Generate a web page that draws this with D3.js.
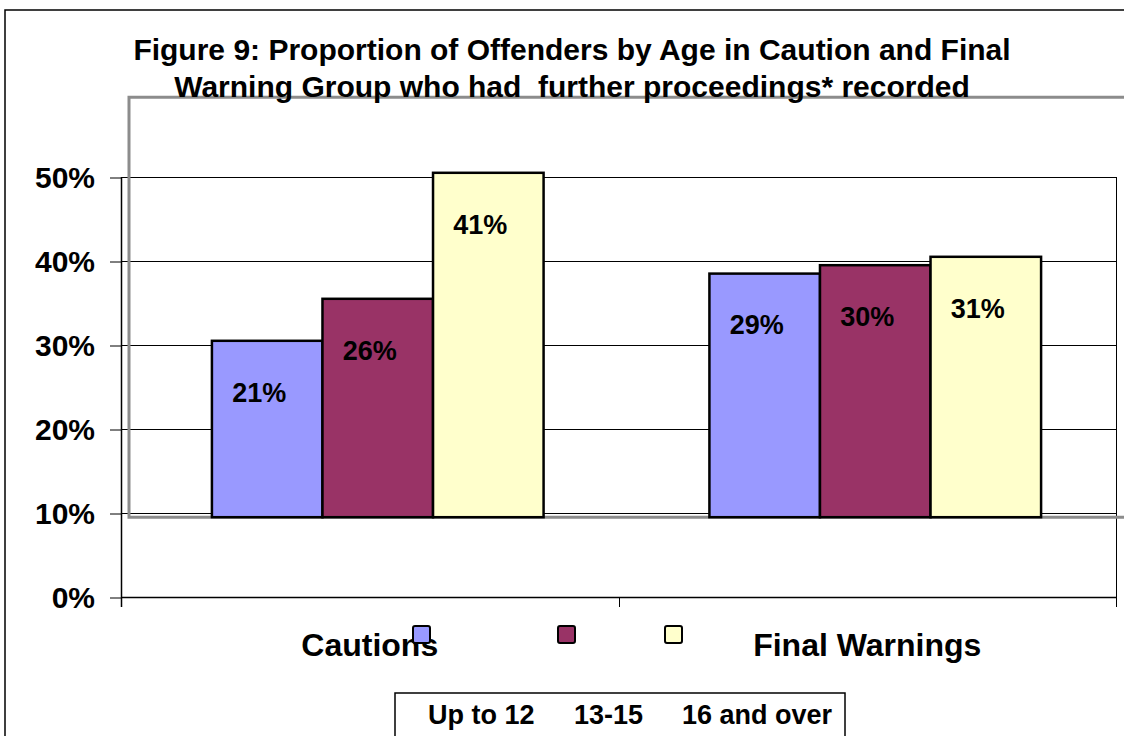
<!DOCTYPE html>
<html>
<head>
<meta charset="utf-8">
<script src="https://cdn.jsdelivr.net/npm/d3@7"></script>
<style>
  html, body { margin: 0; padding: 0; background: #fff; }
  svg { display: block; font-family: "Liberation Sans", Arial, Helvetica, sans-serif; font-weight: bold; }
  text { white-space: pre; }
</style>
</head>
<body>
<svg id="chart" width="1124" height="736"></svg>
<script>
// ---- data ----
const categories = ["Cautions", "Final Warnings"];
const seriesNames = ["Up to 12", "13-15", "16 and over"];
const upTo12 = [21, 29];
const age13to15 = [26, 30];
const age16plus = [41, 31];
const yTickValues = [0, 10, 20, 30, 40, 50];
const seriesColors = ["#9999FF", "#993366", "#FFFFCC"];
const titleLines = [
  "Figure 9: Proportion of Offenders by Age in Caution and Final",
  "Warning Group who had  further proceedings* recorded"
];

const seriesValues = [upTo12, age13to15, age16plus];

// ---- layout ----
const W = 1124, H = 736;
const plot = { left: 121, right: 1116, top: 177, bottom: 597 };
const svg = d3.select("#chart");

const x0 = d3.scaleBand().domain(categories).range([plot.left, plot.right]).padding(0);
const x1 = d3.scaleBand().domain(seriesNames)
  .range([x0.bandwidth() / 6, x0.bandwidth() * 5 / 6]).padding(0);
const y = d3.scaleLinear().domain([0, 50]).range([plot.bottom, plot.top]);

// shifted plot-area frame (the grey box and the bars sit in it)
const shift = { dx: 8, dy: y(9.5) - y(0) };

// outer chart frame
svg.append("path")
  .attr("d", `M5,${H + 5} L5,10 L${W + 5},10`)
  .attr("fill", "none").attr("stroke", "#000").attr("stroke-width", 1.5);

// gridlines
svg.append("g").selectAll("line").data(yTickValues).join("line")
  .attr("x1", plot.left).attr("x2", plot.right)
  .attr("y1", d => Math.round(y(d)) + 0.5).attr("y2", d => Math.round(y(d)) + 0.5)
  .attr("stroke", "#000").attr("stroke-width", 1);

// right border of plot
svg.append("line")
  .attr("x1", plot.right + 0.5).attr("x2", plot.right + 0.5)
  .attr("y1", plot.top).attr("y2", plot.bottom + 10)
  .attr("stroke", "#000").attr("stroke-width", 1);

// y axis
const yAxis = d3.axisLeft(y).tickValues(yTickValues).tickSize(11).tickPadding(15)
  .tickFormat(d => d + "%");
const yg = svg.append("g").attr("transform", `translate(${plot.left},0)`).call(yAxis);
yg.select(".domain").remove();
yg.selectAll(".tick line").attr("stroke", "#000").attr("stroke-width", 1)
  .attr("transform", "translate(0,0.5)");
yg.selectAll(".tick text").attr("font-size", 30).attr("fill", "#000")
  .attr("font-family", "'Liberation Sans', Arial, sans-serif").attr("font-weight", "bold")
  .attr("dy", "0.36em");
svg.append("line")
  .attr("x1", plot.left + 0.5).attr("x2", plot.left + 0.5)
  .attr("y1", plot.top).attr("y2", plot.bottom + 10)
  .attr("stroke", "#000").attr("stroke-width", 1.5);

// x axis line and ticks
svg.append("line")
  .attr("x1", plot.left).attr("x2", plot.right)
  .attr("y1", plot.bottom + 0.5).attr("y2", plot.bottom + 0.5)
  .attr("stroke", "#000").attr("stroke-width", 1.5);
const boundaries = categories.map(c => x0(c)).concat([plot.right]);
svg.append("g").selectAll("line").data(boundaries.slice(1)).join("line")
  .attr("x1", d => Math.round(d) + 0.5).attr("x2", d => Math.round(d) + 0.5)
  .attr("y1", plot.bottom).attr("y2", plot.bottom + 10)
  .attr("stroke", "#000").attr("stroke-width", 1);

// grey shifted plot frame (right edge falls outside the page)
const gx = plot.left + shift.dx, gt = plot.top + shift.dy, gb = plot.bottom + shift.dy;
svg.append("path")
  .attr("d", `M${W + 10},${gt} L${gx},${gt} L${gx},${gb} L${W + 10},${gb}`)
  .attr("fill", "none").attr("stroke", "#8c8c8c").attr("stroke-width", 3);

// bars (in shifted frame)
const barsG = svg.append("g").attr("transform", `translate(${shift.dx},${shift.dy})`);
categories.forEach((cat, ci) => {
  seriesNames.forEach((s, si) => {
    const v = seriesValues[si][ci];
    barsG.append("rect")
      .attr("x", x0(cat) + x1(s))
      .attr("y", y(v))
      .attr("width", x1.bandwidth())
      .attr("height", y(0) - y(v))
      .attr("fill", seriesColors[si])
      .attr("stroke", "#000").attr("stroke-width", 2.5);
  });
});

// value labels (unshifted frame)
const labelsG = svg.append("g");
categories.forEach((cat, ci) => {
  seriesNames.forEach((s, si) => {
    const v = seriesValues[si][ci];
    labelsG.append("text")
      .attr("x", x0(cat) + x1(s) + x1.bandwidth() / 2)
      .attr("y", y(v) - 19)
      .attr("text-anchor", "middle")
      .attr("font-size", 27).attr("fill", "#000")
      .text(v + "%");
  });
});

// category labels
svg.append("g").selectAll("text").data(categories).join("text")
  .attr("x", d => x0(d) + x0.bandwidth() / 2)
  .attr("y", 656)
  .attr("text-anchor", "middle")
  .attr("font-size", 32).attr("fill", "#000")
  .text(d => d);

// title
svg.append("g").selectAll("text").data(titleLines).join("text")
  .attr("x", 572)
  .attr("y", (d, i) => 60 + i * 37)
  .attr("text-anchor", "middle")
  .attr("font-size", 30).attr("fill", "#000")
  .text(d => d);

// legend squares (above the legend box)
const legendSquareX = [413, 558, 665];
svg.append("g").selectAll("rect").data(seriesNames).join("rect")
  .attr("x", (d, i) => legendSquareX[i]).attr("y", 626)
  .attr("width", 17).attr("height", 17).attr("rx", 2)
  .attr("fill", (d, i) => seriesColors[i])
  .attr("stroke", "#000").attr("stroke-width", 2);

// legend box
svg.append("rect")
  .attr("x", 395).attr("y", 693).attr("width", 450).attr("height", 60)
  .attr("fill", "#fff").attr("stroke", "#000").attr("stroke-width", 1.5);
const legendTextX = [428, 574, 682];
svg.append("g").selectAll("text").data(seriesNames).join("text")
  .attr("x", (d, i) => legendTextX[i]).attr("y", 724)
  .attr("font-size", 27).attr("fill", "#000")
  .text(d => d);
</script>
</body>
</html>
